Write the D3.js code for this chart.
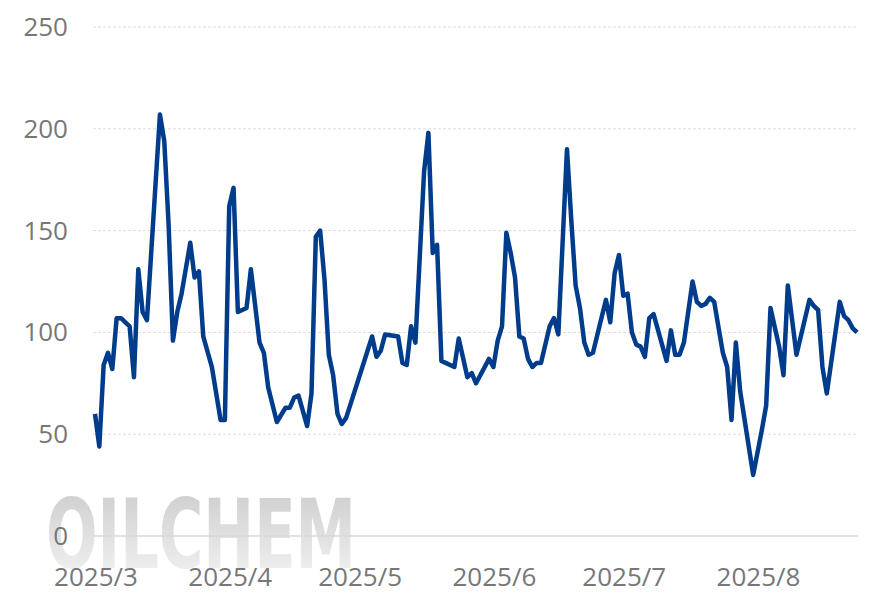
<!DOCTYPE html>
<html>
<head>
<meta charset="utf-8">
<script src="https://cdn.jsdelivr.net/npm/d3@7"></script>
<style>
  body { margin: 0; background: #fff; }
  text { font-family: "Open Sans", sans-serif; }
</style>
</head>
<body>
<svg id="chart" width="884" height="612"></svg>
<script>
// day offsets from 2025-03-01
const days = [0, 1, 2, 3, 4, 5, 6, 8, 9, 10, 11, 12, 15, 16, 17, 18, 19, 20, 22, 23, 24, 25, 27, 29, 30, 31,
  32, 33, 35, 36, 38, 39, 40, 42, 44, 45, 46, 47, 49, 50, 51, 52, 53, 54, 55, 56, 57, 58, 64, 65, 66, 67,
  70, 71, 72, 73, 74, 76, 77, 78, 79, 80, 83, 84, 86, 87, 88, 91, 92, 93, 94, 95, 96, 97, 98, 99, 100,
  101, 102, 103, 105, 106, 107, 109, 110, 111, 112, 113, 114, 115, 118, 119, 120, 121, 122, 123, 124,
  125, 126, 127, 128, 129, 132, 133, 134, 135, 136, 138, 139, 140, 141, 142, 143, 145, 146, 147, 148,
  149, 152, 154, 155, 156, 158, 159, 160, 162, 165, 166, 167, 168, 169, 172, 173, 174, 175, 176];
const values = [60, 44, 84, 90, 82, 107, 107, 103, 78, 131, 110, 106, 207, 194, 153, 96, 110, 119, 144, 127, 130, 98, 83, 57, 57, 162,
  171, 110, 112, 131, 95, 90, 73, 56, 63, 63, 68, 69, 54, 70, 147, 150, 126, 89, 79, 60, 55, 58, 98, 88, 91, 99,
  98, 85, 84, 103, 95, 179, 198, 139, 143, 86, 83, 97, 78, 80, 75, 87, 83, 96, 103, 149, 139, 127, 98, 97, 87,
  83, 85, 85, 103, 107, 99, 190, 155, 123, 112, 95, 89, 90, 116, 105, 129, 138, 118, 119, 100,
  94, 93, 88, 107, 109, 86, 101, 89, 89, 95, 125, 115, 113, 114, 117, 115, 90, 83, 57, 95,
  71, 30, 52, 64, 112, 93, 79, 123, 89, 116, 113, 111, 83, 70, 115, 108, 106, 102, 100];
const yTicks = [0, 50, 100, 150, 200, 250];

const start = new Date(2025, 2, 1);
const data = days.map((d, i) => ({ date: d3.timeDay.offset(start, d), value: values[i] }));

const svg = d3.select("#chart");
const plotL = 93, plotR = 858, plotT = 27, plotB = 536;

const x = d3.scaleTime()
  .domain([d3.timeHour.offset(start, -11), d3.timeHour.offset(start, 176 * 24 + 5)])
  .range([plotL, plotR]);
const y = d3.scaleLinear().domain([0, 250]).range([plotB, plotT]);

// watermark
const grad = svg.append("defs").append("linearGradient")
  .attr("id", "wm").attr("x1", 0).attr("y1", 0).attr("x2", 0).attr("y2", 1);
grad.append("stop").attr("offset", "0%").attr("stop-color", "#cacaca");
grad.append("stop").attr("offset", "100%").attr("stop-color", "#f6f6f6");
svg.append("text")
  .attr("x", 46).attr("y", 568)
  .attr("textLength", 310).attr("lengthAdjust", "spacingAndGlyphs")
  .style("font-family", "'DejaVu Sans Condensed', 'DejaVu Sans', sans-serif")
  .style("font-weight", "bold").style("font-size", "96px")
  .attr("fill", "url(#wm)")
  .text("OILCHEM");

// grid
svg.append("g").selectAll("line")
  .data(yTicks.filter(t => t > 0))
  .join("line")
  .attr("x1", plotL).attr("x2", plotR)
  .attr("y1", d => y(d)).attr("y2", d => y(d))
  .attr("stroke", "#dcdcdc").attr("stroke-dasharray", "3,2");

svg.append("line")
  .attr("x1", plotL).attr("x2", plotR)
  .attr("y1", y(0)).attr("y2", y(0))
  .attr("stroke", "#d9d9d9").attr("stroke-width", 1.5);

// y labels
svg.append("g").selectAll("text")
  .data(yTicks)
  .join("text")
  .attr("x", 68).attr("y", d => y(d) + 9)
  .attr("text-anchor", "end")
  .attr("fill", "#777").style("font-size", "26px")
  .text(d => d);

// x labels
const months = d3.timeMonth.range(start, new Date(2025, 7, 2));
svg.append("g").selectAll("text")
  .data(months)
  .join("text")
  .attr("x", d => x(d) + 1)
  .attr("y", 586)
  .attr("text-anchor", "middle")
  .attr("fill", "#777").style("font-size", "26px")
  .text(d3.timeFormat("%Y/%-m"));

// line
svg.append("path")
  .datum(data)
  .attr("fill", "none")
  .attr("stroke", "#003c8c")
  .attr("stroke-width", 4.5)
  .attr("stroke-linejoin", "round")
  .attr("d", d3.line().x(d => x(d.date)).y(d => y(d.value)));
</script>
</body>
</html>
